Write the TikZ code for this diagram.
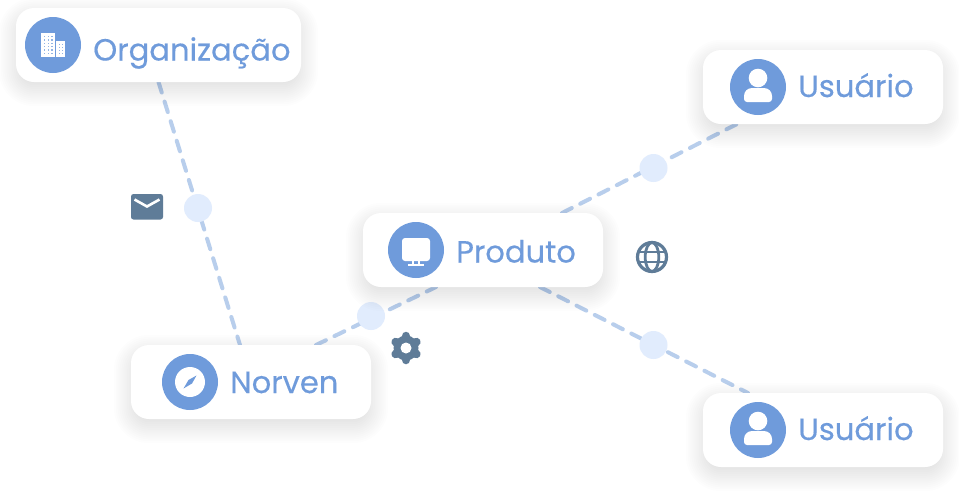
\documentclass[tikz,border=0pt]{standalone}
\usepackage{fontspec}
\setmainfont{Poppins}
\newfontfamily\lblfont[FakeBold=0.3]{Poppins}
\definecolor{blueC}{HTML}{6F9BDB}
\definecolor{dashC}{HTML}{B8CEEC}
\definecolor{dotC}{HTML}{E1ECFD}
\definecolor{iconC}{HTML}{5F7C98}
\newcommand{\softshadow}[2]{%
  \foreach \s in {1,...,20}{
    \pgfmathsetmacro{\grow}{19-1.9*\s}
    \pgfmathsetmacro{\rad}{max(18+\grow,1)}
    \node[rectangle,rounded corners=\rad pt,fill=black,fill opacity=0.0065,inner sep=0,
      minimum width=#2pt+2*\grow pt,minimum height=74pt+2*\grow pt] at (#1) {};
  }%
}
\newcommand{\userglyph}[1]{%
  \fill[white] ($(#1)+(0,-9)$) circle (9.3pt);
  \fill[white] ($(#1)+(-14,12)$) -- ($(#1)+(-14,9)$) arc[start angle=180,end angle=90,radius=8pt]
    -- ($(#1)+(6,1)$) arc[start angle=90,end angle=0,radius=8pt] -- ($(#1)+(14,12)$)
    arc[start angle=0,end angle=-90,radius=3pt] -- ($(#1)+(-11,15)$)
    arc[start angle=270,end angle=180,radius=3pt] -- cycle;
}
\usetikzlibrary{calc}
\tikzset{
  card/.style={rectangle,rounded corners=18pt,fill=white,inner sep=0,minimum height=74pt},
  link/.style={draw=dashC,line width=4pt,line cap=round,dash pattern=on 11pt off 9.5pt},
  dotnode/.style={circle,fill=dotC,inner sep=0,minimum size=28pt},
  badge/.style={circle,fill=blueC,inner sep=0,minimum size=56pt},
  lbl/.style={text=blueC,inner sep=0,anchor=base west,font=\lblfont\fontsize{30.6}{32}\selectfont},
  glyph/.style={draw=iconC,line width=3.2pt}
}
\begin{document}
\begin{tikzpicture}[x=1pt,y=-1pt]
\useasboundingbox (0,0) rectangle (959,491);
\fill[white] (0,0) rectangle (959,491);
\coordinate (orgC) at (158.5,45);
\coordinate (proC) at (483,250);
\coordinate (norC) at (251,382);
\coordinate (usaC) at (823,87);
\coordinate (usbC) at (823,430);
% connector ends
\coordinate (orgEnd) at (158.5,82);
\coordinate (norEndA) at (240,345);
\coordinate (norEndB) at (316,345);
\coordinate (proEndA) at (436,287);
\coordinate (proEndB) at (562,213);
\coordinate (proEndC) at (540,287);
\coordinate (usaEnd) at (737,124);
\coordinate (usbEnd) at (748,393);
\draw[link] (orgEnd) -- (norEndA);
\draw[link] (norEndB) -- (proEndA);
\draw[link] (proEndB) -- (usaEnd);
\draw[link] (proEndC) -- (usbEnd);
\node[dotnode] (d1) at (198,208) {};
\node[dotnode] (d2) at (371,316) {};
\node[dotnode] (d3) at (653.5,168) {};
\node[dotnode] (d4) at (653.5,345) {};
% shadows
\softshadow{158.5,52}{285}
\softshadow{483,257}{240}
\softshadow{251,389}{240}
\softshadow{823,94}{240}
\softshadow{823,437}{240}
% cards
\node[card,minimum width=285pt] (org) at (orgC) {};
\node[card,minimum width=240pt] (pro) at (proC) {};
\node[card,minimum width=240pt] (nor) at (norC) {};
\node[card,minimum width=240pt] (usa) at (usaC) {};
\node[card,minimum width=240pt] (usb) at (usbC) {};
% badges
\node[badge] (borg) at (53,45) {};
\node[badge] (bpro) at (416,250) {};
\node[badge] (bnor) at (190,382) {};
\node[badge] (busa) at (758,87) {};
\node[badge] (busb) at (758,430) {};
% labels
\node[lbl] (torg) at (93,60.5) {Organização};
\node[lbl] (tpro) at (456,262.5) {Produto};
\node[lbl] (tnor) at (230,393) {Norven};
\node[lbl] (tusa) at (798,97) {Usuário};
\node[lbl] (tusb) at (798,440) {Usuário};
% building icon
\fill[white] (41,33) rectangle (55,57);
\fill[white] (55.8,41) rectangle (65,57);
\foreach \i in {0,1,2}{\foreach \j in {0,...,5}{
  \fill[blueC!75] (44+3.6*\i,36+3.3*\j) rectangle +(1.3,1.3);}}
\foreach \i in {0,1}{\foreach \j in {0,...,3}{
  \fill[blueC!75] (58.5+3.3*\i,44+3*\j) rectangle +(1.3,1.3);}}
% monitor icon
\fill[white,rounded corners=3pt] (402,238) rectangle (430,261);
\fill[white] (408,264) rectangle (424,265.6);
\fill[white] (412,261) rectangle (414,264);
\fill[white] (418,261) rectangle (420,264);
% compass icon
\fill[white] (190,382) circle (15pt);
\fill[blueC] (196.5,375.5) -- (192,383.5) -- (183.5,388.5) -- (188.5,380) -- cycle;
% user icons
\userglyph{758,87}
\userglyph{758,430}
% envelope
\fill[iconC,rounded corners=2.5pt] (131,194) rectangle (163,219.5);
\draw[white,line width=2.6pt] (134.5,199.5) -- (147,206.5) -- (159.5,199.5);
% globe
\draw[glyph] (652,257) circle (14.5pt);
\draw[glyph,line width=2.8pt] (652,257) ellipse (6.8pt and 14.5pt);
\draw[glyph,line width=2.8pt] (638.8,252) -- (665.2,252);
\draw[glyph,line width=2.8pt] (638.8,262) -- (665.2,262);
% gear
\foreach \a in {90,150,210,270,330,30}{
  \draw[iconC,line width=8.5pt,line cap=round] (406,348) -- +({12*cos(\a)},{12*sin(\a)});
}
\fill[iconC] (406,348) circle (12.5pt);
\fill[white] (406,348) circle (5.5pt);
\end{tikzpicture}
\end{document}
